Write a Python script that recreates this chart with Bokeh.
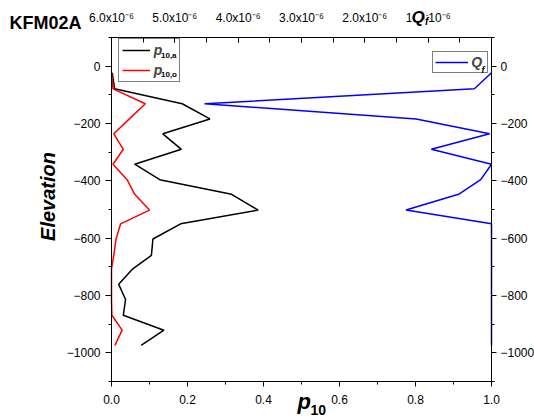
import math
from bokeh.plotting import figure
from bokeh.models import (Range1d, LinearAxis, SingleIntervalTicker, PrintfTickFormatter,
                          CustomJSTickFormatter, Legend, LegendItem, Label)
from bokeh.embed import file_html
from bokeh.resources import INLINE

# ---------------- data ----------------
elevation = [-23, -79, -131, -184, -236, -290, -342, -396, -447, -502,
             -550, -603, -660, -707, -761, -814, -869, -921, -974]
p10_a = [0.002, 0.008, 0.186, 0.259, 0.135, 0.184, 0.061, 0.127, 0.316, 0.386,
         0.182, 0.109, 0.105, 0.056, 0.019, 0.037, 0.031, 0.138, 0.078]
p10_o = [0.0, 0.004, 0.089, 0.047, 0.006, 0.031, 0.004, 0.041, 0.061, 0.100,
         0.024, 0.012, 0.006, 0.0, 0.0, 0.0, 0.001, 0.028, 0.009]
q_f = [0.0, 0.27e-6, 4.53e-6, 1.19e-6, 0.03e-6, 0.95e-6, 0.0, 0.17e-6, 0.52e-6, 1.35e-6,
       0.0, 0.0, 0.0, 0.0, 0.0, 0.0, 0.0, 0.0, 0.0]

well_name = "KFM02A"
y_title = "Elevation"
legend_labels = ["p", "p"]
legend_subs = ["10,a", "10,o"]

# axis limits
P_MIN, P_MAX = 0.0, 1.0
E_MIN, E_MAX = -1100.0, 100.0
Q_LEFT, Q_RIGHT = 6e-6, 0.0

FONT = "Liberation Sans"
W, H = 534, 419
# pixel box of the plotting area inside the canvas
PL, PR, PT, PB = 111, 491, 37, 381


def lin(a_px, b_px, a_val, b_val, px):
    return a_val + (px - a_px) * (b_val - a_val) / (b_px - a_px)


# the frame spans the whole canvas; the axes are pinned at the box edges
x_range = Range1d(lin(PL, PR, P_MIN, P_MAX, 0), lin(PL, PR, P_MIN, P_MAX, W))
y_range = Range1d(lin(PB, PT, E_MIN, E_MAX, H), lin(PB, PT, E_MIN, E_MAX, 0))
q_range = Range1d(start=lin(PL, PR, Q_LEFT, Q_RIGHT, 0), end=lin(PL, PR, Q_LEFT, Q_RIGHT, W))

p = figure(width=W, height=H, output_backend="svg", toolbar_location=None,
           x_range=x_range, y_range=y_range,
           min_border_left=0, min_border_right=0, min_border_top=0, min_border_bottom=0,
           x_axis_location=None, y_axis_location=None)
p.title.visible = False
p.xgrid.visible = False
p.ygrid.visible = False
p.outline_line_color = None
p.background_fill_color = "white"
p.border_fill_color = "white"
p.extra_x_ranges = {"qf": q_range}


def style(ax, tin, tout, min_in, min_out, standoff):
    ax.axis_line_color = "black"
    ax.axis_line_width = 1
    ax.major_tick_line_color = "black"
    ax.minor_tick_line_color = "black"
    ax.major_tick_in = tin
    ax.major_tick_out = tout
    ax.minor_tick_in = min_in
    ax.minor_tick_out = min_out
    ax.major_label_standoff = standoff
    ax.major_label_text_font = FONT
    ax.major_label_text_font_size = "12px"
    ax.major_label_text_color = "black"


bottom = LinearAxis(ticker=SingleIntervalTicker(interval=0.2, num_minor_ticks=2),
                    formatter=PrintfTickFormatter(format="%.1f"),
                    bounds=(P_MIN, P_MAX), fixed_location=E_MIN)
style(bottom, 0, 5, 0, 3, 8)
p.add_layout(bottom, "below")

left = LinearAxis(ticker=SingleIntervalTicker(interval=200, num_minor_ticks=2),
                  bounds=(E_MIN, E_MAX), fixed_location=P_MIN)
style(left, 0, 6, 0, 3, 5)
p.add_layout(left, "left")

right = LinearAxis(ticker=SingleIntervalTicker(interval=200, num_minor_ticks=2),
                   bounds=(E_MIN, E_MAX), fixed_location=P_MAX)
style(right, 0, 5, 0, 3, 4)
p.add_layout(right, "right")

top = LinearAxis(x_range_name="qf",
                 ticker=SingleIntervalTicker(interval=1e-6, num_minor_ticks=2),
                 formatter=CustomJSTickFormatter(code="""
                     const v = Math.round(tick * 1e7) / 10;
                     if (Math.abs(v) < 1e-6) { return ""; }
                     return v.toFixed(1) + "x10\u207B\u2076";
                 """),
                 bounds=(Q_RIGHT, Q_LEFT), fixed_location=E_MAX)
style(top, 5, 0, 5, 0, 13)
p.add_layout(top, "above")

r_a = p.line(p10_a, elevation, line_color="black", line_width=1.5)
r_o = p.line(p10_o, elevation, line_color="#ff0000", line_width=1.5)
r_q = p.line(q_f, elevation, line_color="#0000ff", line_width=1.5, x_range_name="qf")

leg1 = Legend(items=[LegendItem(label=legend_labels[0], renderers=[r_a]),
                     LegendItem(label=legend_labels[1], renderers=[r_o])],
              location=(117.7, H - 82), orientation="vertical",
              padding=3, spacing=4, glyph_width=28, glyph_height=14,
              label_width=22, label_height=14, label_standoff=4, margin=0,
              label_text_font=FONT, label_text_font_style="bold italic",
              label_text_font_size="14px", border_line_color="black",
              border_line_width=1, background_fill_alpha=0.0)
p.add_layout(leg1)

leg2 = Legend(items=[LegendItem(label="Q", renderers=[r_q])],
              location=(432.3, H - 73), orientation="vertical",
              padding=2, spacing=0, glyph_width=33, glyph_height=12,
              label_width=14, label_height=12, label_standoff=3, margin=0,
              label_text_font=FONT, label_text_font_style="bold italic",
              label_text_font_size="14px", border_line_color="black",
              border_line_width=1, background_fill_alpha=0.0)
p.add_layout(leg2)


def lab(text, xpx, ypx, size, style="normal", align="left", baseline="alphabetic",
        angle=0.0, bg=None):
    l = Label(x=lin(PL, PR, P_MIN, P_MAX, xpx), y=lin(PB, PT, E_MIN, E_MAX, ypx), text=text,
              text_font=FONT, text_font_size=f"{size}px", text_font_style=style,
              text_align=align, text_baseline=baseline, angle=angle,
              text_color="black", level="overlay")
    if bg is not None:
        l.background_fill_color = bg
    p.add_layout(l)


# chart title
lab(well_name, 9, 22, 18, "bold")
# y axis title
lab(y_title, 47.5, 196, 20, "bold italic", align="center", baseline="middle",
    angle=math.pi / 2)
# x axis title p_10
lab("p", 297, 401, 22, "bold italic")
lab("10", 310, 409, 14, "bold")
# top axis title Q_f (drawn over the 1.0 tick label like the original)
lab("Q", 411, 17, 17, "bold italic", bg="white")
lab("f", 424.5, 21, 10, "bold italic", bg="white")
# legend subscripts
lab(legend_subs[0], 160.5, 55, 8, "bold")
lab(legend_subs[1], 160.5, 74, 8, "bold")
lab("f", 481, 69, 9, "bold italic")

open("out.html", "w").write(file_html(p, INLINE, title="KFM02A"))
